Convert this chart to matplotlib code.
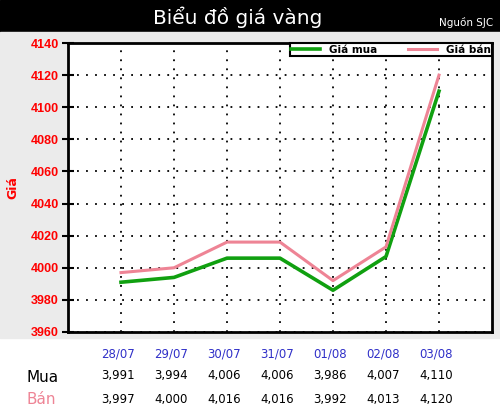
import matplotlib.pyplot as plt
import numpy as np

# Dữ liệu giá vàng SJC
ngay = ["28/07", "29/07", "30/07", "31/07", "01/08", "02/08", "03/08"]
gia_mua = [3991, 3994, 4006, 4006, 3986, 4007, 4110]
gia_ban = [3997, 4000, 4016, 4016, 3992, 4013, 4120]
y_ticks = [3960, 3980, 4000, 4020, 4040, 4060, 4080, 4100, 4120, 4140]

W, H = 500, 417
fig = plt.figure(figsize=(W / 100, H / 100), dpi=100)
fig.patch.set_facecolor("white")

# nền: dải đen phía trên, vùng xám cho biểu đồ
fig.add_artist(plt.Rectangle((0, 1 - 32 / H), 1, 32 / H, transform=fig.transFigure,
                             color="black", zorder=0))
fig.add_artist(plt.Rectangle((0, 1 - 338 / H), 1, (338 - 32) / H, transform=fig.transFigure,
                             color="#ebebeb", zorder=0))

fig.text(238 / W, 1 - 17 / H, "Biểu đồ giá vàng", color="white", fontsize=14.5,
         ha="center", va="center", family="DejaVu Sans")
fig.text(493 / W, 1 - 23 / H, "Nguồn SJC", color="white", fontsize=7.5,
         ha="right", va="center", family="DejaVu Sans")

# vùng vẽ
left, right, top, bottom = 68, 492, 43, 332
ax = fig.add_axes([left / W, 1 - bottom / H, (right - left) / W, (bottom - top) / H])
ax.set_facecolor("white")
x = np.arange(len(ngay))
ax.plot(x, gia_mua, color="#10a010", lw=2.6, label="Giá mua", zorder=3)
ax.plot(x, gia_ban, color="#ee8495", lw=2.2, label="Giá bán", zorder=3)
ax.set_xlim(-1, len(ngay))
ax.set_ylim(3960, 4140)
ax.set_yticks(y_ticks)
ax.set_xticks(x)
ax.tick_params(axis="x", length=0, labelbottom=False)
ax.tick_params(axis="y", direction="inout", length=9, width=1.5, colors="black",
               labelcolor="red", labelsize=9, pad=2)
for lab in ax.get_yticklabels():
    lab.set_fontweight("bold")
    lab.set_family("Liberation Sans")
ax.grid(True, color="black", linestyle=(0, (1, 4)), linewidth=1.3)
for sp in ax.spines.values():
    sp.set_linewidth(2)
ax.set_ylabel("Giá", color="red", fontweight="bold", fontsize=9, labelpad=8)

leg = ax.legend(loc="upper right", ncol=2, frameon=True, fancybox=False,
                bbox_to_anchor=(1.0, 1.0), borderaxespad=0, fontsize=7.5,
                handlelength=2.8, columnspacing=3, borderpad=0.15,
                handletextpad=0.8)
leg.get_frame().set_edgecolor("black")
leg.get_frame().set_linewidth(1.5)
leg.get_frame().set_alpha(1)
for t in leg.get_texts():
    t.set_fontweight("bold")

# bảng giá phía dưới
def fx(i):
    return (left + (i + 1) * (right - left) / (len(ngay) + 1)) / W

for i, d in enumerate(ngay):
    fig.text(fx(i) - 3 / W, 1 - 354 / H, d, color="#3030c8", fontsize=8.5,
             ha="center", va="center", family="DejaVu Sans")
    fig.text(fx(i) - 3 / W, 1 - 376 / H, f"{gia_mua[i]:,}", color="black", fontsize=8.5,
             ha="center", va="center", family="DejaVu Sans")
    fig.text(fx(i) - 3 / W, 1 - 399 / H, f"{gia_ban[i]:,}", color="black", fontsize=8.5,
             ha="center", va="center", family="DejaVu Sans")
fig.text(27 / W, 1 - 377 / H, "Mua", color="black", fontsize=11, ha="left", va="center")
fig.text(27 / W, 1 - 400 / H, "Bán", color="#ee8495", fontsize=11, ha="left", va="center")

fig.savefig("out.png", dpi=100, facecolor=fig.get_facecolor())
